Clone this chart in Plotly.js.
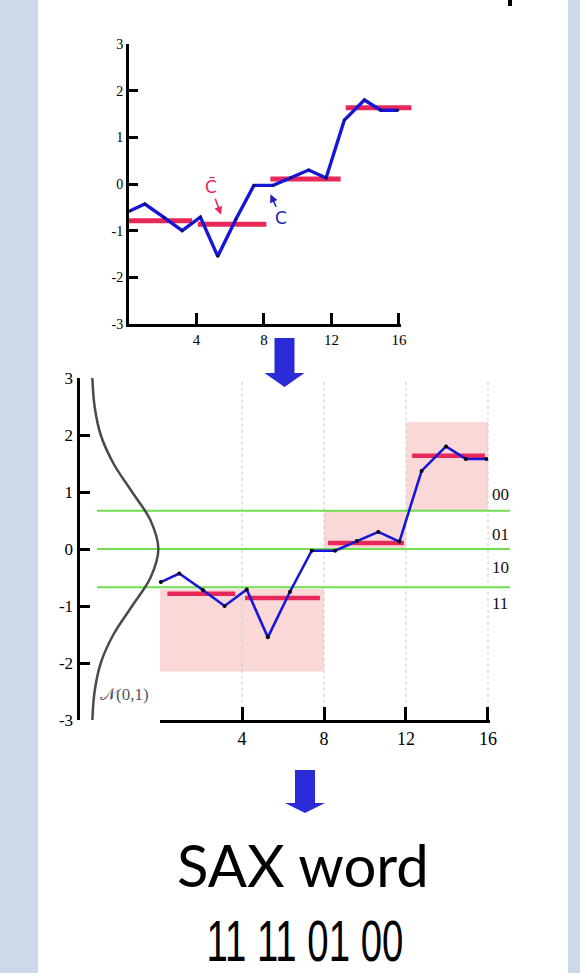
<!DOCTYPE html>
<html>
<head>
<meta charset="utf-8">
<script src="https://cdn.plot.ly/plotly-3.0.1.min.js"></script>
<style>
html,body{margin:0;padding:0;background:#cdd8e9;}
#chart{width:580px;height:973px;}
</style>
</head>
<body>
<div id="chart"></div>
<script>
// ---------------- data ----------------
const seriesX = [0.04, 0.94, 2.09, 3.15, 4.23, 5.26, 6.34, 7.40, 8.54, 9.60, 10.65, 11.68, 12.76, 13.95, 14.92, 15.92];
const seriesY = [-0.58, -0.43, -0.72, -1.00, -0.71, -1.55, -0.75, -0.03, -0.03, 0.14, 0.30, 0.13, 1.37, 1.80, 1.58, 1.58];

const paaValues   = [-0.785, -0.86, 0.105, 1.635];
const topSegStart = [0.00, 4.08, 8.38, 12.84];
const topSegEnd   = [3.74, 8.14, 12.54, 16.74];
const botSegStart = [0.36, 4.15, 8.20, 12.30];
const botSegEnd   = [3.66, 7.80, 11.90, 15.85];

const breakpoints = [-0.67, 0, 0.67];
const breakLineFrom = -3.07;
const breakLineTo = 17.07;
const symbols = ['00', '01', '10', '11'];
const symbolY = [0.95, 0.26, -0.32, -0.95];
const symbolX = 16.59;

const regionX0   = [0, 8, 12];
const regionX1   = [8, 12, 16];
const regionLow  = [-2.15, 0, 0.67];
const regionHigh = [-0.70, 0.67, 2.23];

const gaussY = [-3, -2.5, -2, -1.5, -1, -0.5, 0, 0.5, 1, 1.5, 2, 2.5, 3];
const gaussX = [-3.30, -3.19, -2.89, -2.27, -1.36, -0.46, -0.08, -0.46, -1.36, -2.27, -2.89, -3.19, -3.30];

const gridX = [4, 8, 12, 16];
const yTicks = [-3, -2, -1, 0, 1, 2, 3];
const xTicks = [4, 8, 12, 16];
const saxWord = '11 11 01 00';

// ---------------- helpers ----------------
const W = 580, H = 973;
const fx = p => p / W;
const fy = p => 1 - p / H;

const RED = '#e8285a';
const BLUE = '#1616d8';

function segTrace(starts, ends, xa, ya, width) {
  const x = [], y = [];
  starts.forEach((s, i) => { x.push(s, ends[i], null); y.push(paaValues[i], paaValues[i], null); });
  return {type: 'scatter', mode: 'lines', x: x, y: y, xaxis: xa, yaxis: ya,
          line: {color: RED, width: width}, hoverinfo: 'skip', connectgaps: false};
}

const data = [
  // empty traces that register the two drawn x axes
  {type: 'scatter', mode: 'lines', x: [], y: [], xaxis: 'x3', yaxis: 'y', hoverinfo: 'skip'},
  {type: 'scatter', mode: 'lines', x: [], y: [], xaxis: 'x4', yaxis: 'y2', hoverinfo: 'skip'},
  segTrace(topSegStart, topSegEnd, 'x', 'y', 5),
  {type: 'scatter', mode: 'lines+markers', x: seriesX, y: seriesY, xaxis: 'x', yaxis: 'y',
   line: {color: BLUE, width: 3.4}, marker: {color: '#101060', size: 3}, hoverinfo: 'skip'},
  {type: 'scatter', mode: 'lines', x: gaussX, y: gaussY, xaxis: 'x2', yaxis: 'y2',
   line: {color: '#4a4a4a', width: 2.5, shape: 'spline'}, hoverinfo: 'skip'},
  segTrace(botSegStart, botSegEnd, 'x2', 'y2', 4.5),
  {type: 'scatter', mode: 'lines+markers', x: seriesX, y: seriesY, xaxis: 'x2', yaxis: 'y2',
   line: {color: BLUE, width: 2.6}, marker: {color: '#000', size: 4}, hoverinfo: 'skip'}
];

const shapes = [];
// white central panel
shapes.push({type: 'rect', xref: 'paper', yref: 'paper', x0: fx(38), x1: fx(568), y0: 0, y1: 1,
             fillcolor: '#ffffff', line: {width: 0}, layer: 'below'});
// pink regions
regionX0.forEach((x0, i) => shapes.push({type: 'rect', xref: 'x2', yref: 'y2', x0: x0, x1: regionX1[i],
  y0: regionLow[i], y1: regionHigh[i], fillcolor: '#fad8d8', line: {width: 0}, layer: 'below'}));
// dotted verticals
gridX.forEach(g => shapes.push({type: 'line', xref: 'x2', yref: 'y2', x0: g, x1: g, y0: -2.8, y1: 2.95,
  line: {color: '#c8c8c8', width: 1, dash: 'dot'}, layer: 'below'}));
// breakpoints
breakpoints.forEach(b => shapes.push({type: 'line', xref: 'x2', yref: 'y2', x0: breakLineFrom, x1: breakLineTo,
  y0: b, y1: b, line: {color: '#72dc52', width: 2}, layer: 'below'}));

// big blue arrows (decorative)
function arrowPath(cx, top, headTop, tip, shaftHalf, headHalf) {
  const p = (x, y) => fx(x) + ',' + fy(y);
  return 'M' + p(cx - shaftHalf, top) + ' L' + p(cx + shaftHalf, top) + ' L' + p(cx + shaftHalf, headTop) +
         ' L' + p(cx + headHalf, headTop) + ' L' + p(cx, tip) + ' L' + p(cx - headHalf, headTop) +
         ' L' + p(cx - shaftHalf, headTop) + ' Z';
}
shapes.push({type: 'path', xref: 'paper', yref: 'paper', path: arrowPath(284.5, 338, 373, 387, 10, 20),
             fillcolor: '#2a2ad6', line: {width: 0}});
shapes.push({type: 'path', xref: 'paper', yref: 'paper', path: arrowPath(305, 770, 803, 813, 10, 20),
             fillcolor: '#2a2ad6', line: {width: 0}});
// cut-off glyph at the very top
shapes.push({type: 'rect', xref: 'paper', yref: 'paper', x0: fx(508), x1: fx(512), y0: fy(6), y1: 1,
             fillcolor: '#000', line: {width: 0}});

const annotations = [];
symbols.forEach((s, i) => annotations.push({xref: 'x2', yref: 'y2', x: symbolX, y: symbolY[i], text: s,
  showarrow: false, font: {family: 'Liberation Serif', size: 17, color: '#111'}}));
annotations.push({xref: 'x2', yref: 'y2', x: -1.73, y: -2.56, text: '𝒩(0,1)', showarrow: false,
  font: {family: 'Liberation Serif', size: 17, color: '#555'}});
annotations.push({xref: 'x', yref: 'y', x: 5.45, y: -0.66, ax: -10, ay: -28, text: 'C\u0304',
  showarrow: true, arrowhead: 2, arrowsize: 1, arrowwidth: 1.6, arrowcolor: RED, standoff: 0,
  font: {family: 'DejaVu Sans', size: 17, color: RED}});
annotations.push({xref: 'x', yref: 'y', x: 8.38, y: -0.22, ax: 11, ay: 24, text: 'C',
  showarrow: true, arrowhead: 2, arrowsize: 1, arrowwidth: 1.6, arrowcolor: '#2020c0', standoff: 0,
  font: {family: 'DejaVu Sans', size: 17, color: '#2020c0'}});
annotations.push({xref: 'paper', yref: 'paper', x: fx(302.5), y: fy(864), xanchor: 'center', yanchor: 'middle',
  text: 'SAX word', showarrow: false, font: {family: 'Lato', size: 58, color: '#000'}});
annotations.push({xref: 'paper', yref: 'paper', x: fx(304.5), y: fy(940), xanchor: 'center', yanchor: 'middle',
  text: saxWord, showarrow: false,
  font: {family: 'Liberation Sans Narrow, Liberation Sans', size: 58, color: '#000'}});

function yAxis(domain, anchor, tlen, fsize) {
  return {domain: domain, anchor: anchor, range: [-3, 3], showline: true, linewidth: 3, linecolor: '#000',
    ticks: 'inside', ticklen: tlen, tickwidth: 3, tickcolor: '#000', tickvals: yTicks,
    ticktext: yTicks.map(v => v < 0 ? '-' + Math.abs(v) : String(v)),
    showgrid: false, zeroline: false, fixedrange: true,
    tickfont: {family: 'Liberation Serif', size: fsize, color: '#000'}};
}
function xDisp(domain, anchor, range, tlen, fsize) {
  return {domain: domain, anchor: anchor, range: range, showline: true, linewidth: 3, linecolor: '#000',
    ticks: 'inside', ticklen: tlen, tickwidth: 3, tickcolor: '#000', tickvals: xTicks,
    ticktext: xTicks.map(String), showgrid: false, zeroline: false, fixedrange: true,
    tickfont: {family: 'Liberation Serif', size: fsize, color: '#000'}};
}

const layout = {
  width: W, height: H, margin: {l: 0, r: 0, t: 0, b: 0, pad: 0},
  paper_bgcolor: '#cdd8e9', plot_bgcolor: 'rgba(0,0,0,0)', showlegend: false,
  xaxis: {domain: [fx(129), fx(420)], range: [0, (420 - 129) / 16.875], anchor: 'y', visible: false, fixedrange: true},
  yaxis: yAxis([fy(324), fy(44)], 'x', 9, 14),
  xaxis3: xDisp([fx(129), fx(400.5)], 'y', [0, 16.09], 11, 15),
  xaxis2: {domain: [fx(79.5), fx(512)], range: [(79.5 - 160) / 20.5, (512 - 160) / 20.5], anchor: 'y2', visible: false, fixedrange: true},
  yaxis2: yAxis([fy(720), fy(378)], 'x2', 10, 17),
  xaxis4: xDisp([fx(160), fx(490)], 'y2', [0, 16.098], 13, 18),
  shapes: shapes,
  annotations: annotations
};

Plotly.newPlot('chart', data, layout, {staticPlot: true, displayModeBar: false}).then(function (gd) {
  gd.querySelectorAll('.annotation-text').forEach(function (t) {
    if (t.textContent === saxWord) {
      t.setAttribute('textLength', '197');
      t.setAttribute('lengthAdjust', 'spacingAndGlyphs');
    }
  });
});
</script>
</body>
</html>
